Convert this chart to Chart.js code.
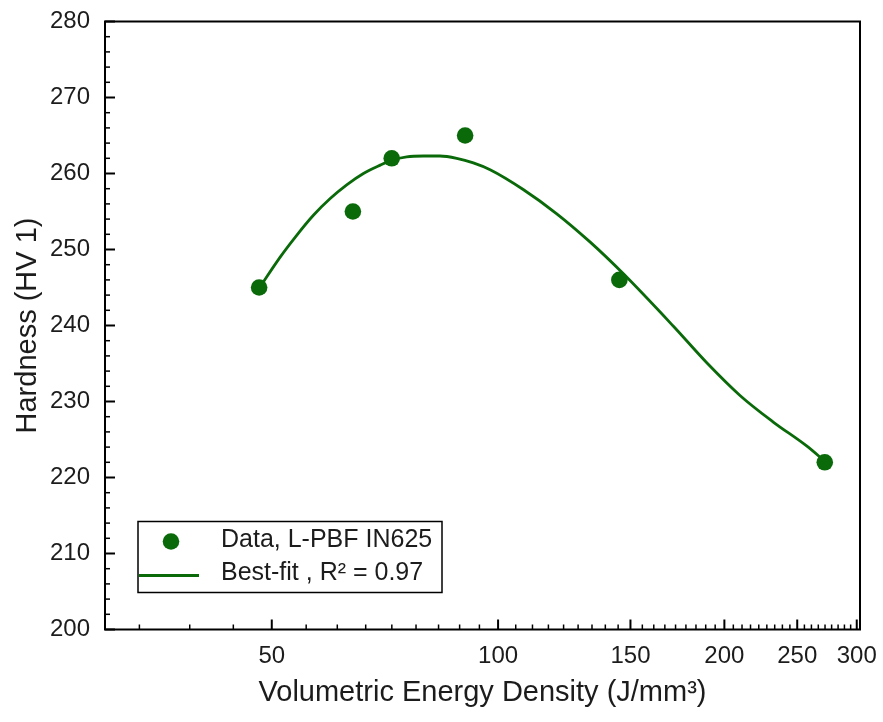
<!DOCTYPE html>
<html>
<head>
<meta charset="utf-8">
<script src="https://cdn.jsdelivr.net/npm/chart.js@4.4.1/dist/chart.umd.min.js"></script>
<style>
  html, body { margin: 0; padding: 0; background: #fff; }
  #wrap { width: 883px; height: 722px; }
</style>
</head>
<body>
<div id="wrap"><canvas id="hardness" width="883" height="722"></canvas></div>
<script>
// measured points
const energyDensity = [48.1, 64.1, 72.2, 90.4, 145.0, 272];
const hardness = [245, 255, 262, 265, 246, 222];

// best-fit curve
const fitEnergy = [48.1, 51.3, 54.0, 56.8, 59.8, 62.9, 66.2, 69.7, 72.2, 75.6, 79.6, 83.7, 88.1,
  92.7, 97.6, 108.0, 119.7, 132.5, 146.8, 171.1, 189.5, 209.8, 232.3, 257.3, 272];
const fitHardness = [244.9, 249.0, 251.9, 254.5, 256.7, 258.5, 260.0, 261.1, 261.75, 262.2, 262.3, 262.3, 262.0,
  261.4, 260.5, 257.9, 254.7, 251.0, 246.8, 239.9, 235.1, 230.8, 227.3, 224.15, 222.15];

const xTickLabels = [50, 100, 150, 200, 250, 300];
const yTickLabels = [200, 210, 220, 230, 240, 250, 260, 270, 280];

const green = '#0a6a0a';
const ink = '#1c1c1c';
const fontFamily = '"Liberation Sans", Arial, Helvetica, sans-serif';

// minor ticks: 8 between each pair of majors (x), every 2 units (y)
const xMinor = [];
for (let a = 0; a < 300; a += 50) {
  for (let k = 1; k <= 8; k++) {
    const v = a + k * 50 / 9;
    if (v > 30 && v < 303) xMinor.push(v);
  }
}
const yMinor = [];
for (let v = 202; v < 280; v += 2) {
  if (v % 10 !== 0) yMinor.push(v);
}

const frameAndLegend = {
  id: 'frameAndLegend',
  afterDraw(chart) {
    const { ctx, chartArea: a, scales: { x, y } } = chart;
    ctx.save();
    ctx.strokeStyle = '#000';

    const seg = (x1, y1, x2, y2, w) => {
      ctx.lineWidth = w;
      ctx.beginPath();
      ctx.moveTo(x1, y1);
      ctx.lineTo(x2, y2);
      ctx.stroke();
    };

    // inward ticks on bottom and left
    xTickLabels.forEach((v) => {
      const px = x.getPixelForValue(v);
      seg(px, a.bottom, px, a.bottom - 10, 2);
    });
    xMinor.forEach((v) => {
      const px = x.getPixelForValue(v);
      seg(px, a.bottom, px, a.bottom - 5, 1.5);
    });
    yTickLabels.forEach((v) => {
      const py = y.getPixelForValue(v);
      seg(a.left, py, a.left + 10, py, 2);
    });
    yMinor.forEach((v) => {
      const py = y.getPixelForValue(v);
      seg(a.left, py, a.left + 5, py, 1.5);
    });

    ctx.lineWidth = 2;
    ctx.strokeRect(a.left, a.top, a.right - a.left, a.bottom - a.top);

    // legend box, lower left inside the plot
    const lx = a.left + 33;
    const ly = a.bottom - 108;
    const lw = 304;
    const lh = 71;
    ctx.fillStyle = '#fff';
    ctx.fillRect(lx, ly, lw, lh);
    ctx.lineWidth = 1.5;
    ctx.strokeRect(lx, ly, lw, lh);

    const [dataSet, fitSet] = chart.data.datasets;
    ctx.font = '25px ' + fontFamily;
    ctx.textBaseline = 'middle';
    ctx.textAlign = 'left';

    ctx.fillStyle = dataSet.backgroundColor;
    ctx.beginPath();
    ctx.arc(lx + 33, ly + 20, 8.3, 0, Math.PI * 2);
    ctx.fill();
    ctx.fillStyle = ink;
    ctx.fillText(dataSet.label, lx + 83, ly + 19);

    ctx.strokeStyle = fitSet.borderColor;
    ctx.lineWidth = 3;
    ctx.beginPath();
    ctx.moveTo(lx + 1, ly + 54);
    ctx.lineTo(lx + 61, ly + 54);
    ctx.stroke();
    ctx.fillStyle = ink;
    ctx.fillText(fitSet.label, lx + 83, ly + 52);

    ctx.restore();
  },
};

new Chart(document.getElementById('hardness'), {
  type: 'scatter',
  data: {
    datasets: [
      {
        label: 'Data, L-PBF IN625',
        data: energyDensity.map((v, i) => ({ x: v, y: hardness[i] })),
        backgroundColor: green,
        borderWidth: 0,
        pointRadius: 8.3,
        order: 0,
      },
      {
        label: 'Best-fit , R\u00b2 = 0.97',
        data: fitEnergy.map((v, i) => ({ x: v, y: fitHardness[i] })),
        showLine: true,
        borderColor: green,
        borderWidth: 2.8,
        pointRadius: 0,
        cubicInterpolationMode: 'monotone',
        order: 1,
      },
    ],
  },
  options: {
    responsive: false,
    animation: false,
    layout: { padding: { top: 21.5, right: 23, left: 0, bottom: 0 } },
    plugins: { legend: { display: false }, tooltip: { enabled: false } },
    scales: {
      x: {
        type: 'logarithmic',
        min: 30,
        max: 303,
        afterBuildTicks: (scale) => {
          scale.ticks = xTickLabels.map((v) => ({ value: v }));
        },
        afterFit: (scale) => {
          scale.height = 92.5;
          scale.paddingLeft = 0;
          scale.paddingRight = 0;
        },
        grid: { display: false, drawTicks: false },
        border: { display: false },
        ticks: {
          autoSkip: false,
          maxRotation: 0,
          padding: 12,
          color: ink,
          font: { family: fontFamily, size: 24 },
          callback: (v) => String(v),
        },
        title: {
          display: true,
          text: 'Volumetric Energy Density (J/mm\u00b3)',
          color: ink,
          font: { family: fontFamily, size: 29 },
          padding: { top: 0, bottom: 11.5 },
        },
      },
      y: {
        min: 200,
        max: 280,
        afterBuildTicks: (scale) => {
          scale.ticks = yTickLabels.map((v) => ({ value: v }));
        },
        afterFit: (scale) => {
          scale.width = 105;
          scale.paddingTop = 0;
          scale.paddingBottom = 0;
        },
        grid: { display: false, drawTicks: false },
        border: { display: false },
        ticks: {
          padding: 15,
          color: ink,
          font: { family: fontFamily, size: 24 },
        },
        title: {
          display: true,
          text: 'Hardness (HV 1)',
          color: ink,
          font: { family: fontFamily, size: 29 },
          padding: { top: 10.5, bottom: 0 },
        },
      },
    },
  },
  plugins: [frameAndLegend],
});
</script>
</body>
</html>
